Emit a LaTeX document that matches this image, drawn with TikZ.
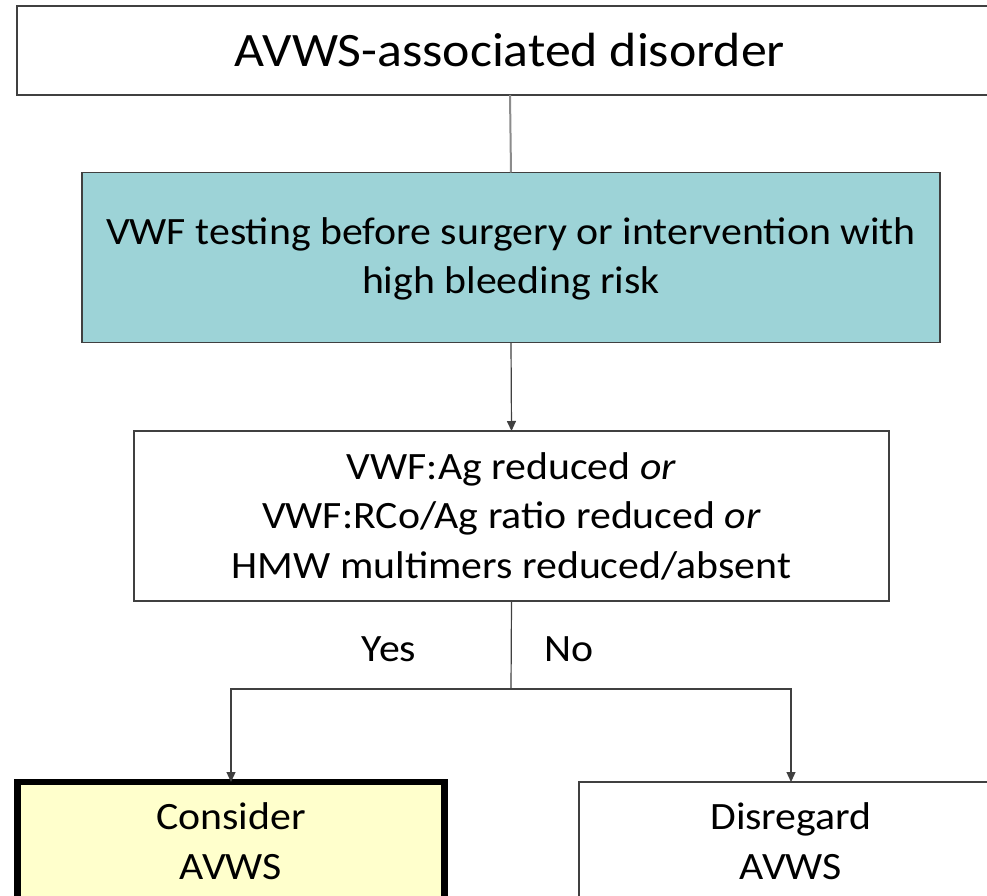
\documentclass[tikz,border=0pt]{standalone}
\usepackage{fontspec}
\setmainfont{Carlito}[FakeStretch=1.08]
\usetikzlibrary{arrows.meta}
\definecolor{tealfill}{HTML}{9DD3D7}
\definecolor{yellowfill}{HTML}{FFFFCC}
\definecolor{bordergray}{HTML}{404040}
\begin{document}
\begin{tikzpicture}[x=1pt,y=-1pt,
  box/.style={draw=bordergray,line width=1.4pt,rectangle,align=center,inner sep=0pt,outer sep=0pt,
    font=\fontsize{38.7}{49.5}\selectfont},
  conn/.style={draw=bordergray,line width=1.2pt},
  arr/.style={conn,-{Triangle[width=9pt,length=10pt]}},
  lbl/.style={font=\fontsize{38.7}{49.5}\selectfont,inner sep=0pt}]
\useasboundingbox (0,0) rectangle (987,896);
\fill[white] (0,0) rectangle (987,896);
\node[box,minimum width=986pt,minimum height=89pt,font=\fontsize{48}{55}\selectfont,text depth=2pt] (top) at (510,50.5) {AVWS-associated disorder};
\node[box,fill=tealfill,minimum width=858pt,minimum height=170pt,text depth=4pt] (teal) at (511,257.5)
  {VWF testing before surgery or intervention with\\high bleeding risk};
\node[box,minimum width=755pt,minimum height=170pt] (mid) at (511.5,516)
  {VWF:Ag reduced \textit{or}\\VWF:RCo/Ag ratio reduced \textit{or}\\HMW multimers reduced/absent};
\node[box,fill=yellowfill,draw=black,line width=6.5pt,minimum width=427pt,minimum height=118pt] (cons) at (231,841)
  {Consider\\AVWS};
\node[box,line width=1.2pt,minimum width=424pt,minimum height=118pt] (dis) at (791,841)
  {Disregard\\AVWS};
\node[lbl] (yes) at (389,649) {Yes};
\node[lbl] (no) at (569,649) {No};
\coordinate (j) at (511,689);
\draw[draw=gray!90,line width=2pt] (top.south) -- (teal.north);
\draw[arr] (teal.south) -- (mid.north);
\draw[conn] (mid.south) -- (j);
\draw[arr] (j) -| (cons.north);
\draw[arr] (j) -| (dis.north);
\end{tikzpicture}
\end{document}
